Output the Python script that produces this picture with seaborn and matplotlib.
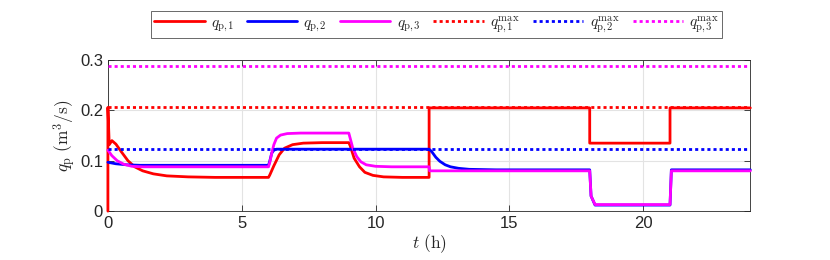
import seaborn as sns
import matplotlib.pyplot as plt

# time (h) and pump flows (m^3/s)
t1 = [0, 0, 0.05, 0.15, 0.3, 0.5, 0.75, 1.0, 1.3, 1.7, 2.2, 3, 4, 6,
      6.05, 6.2, 6.4, 6.6, 6.9, 7.3, 8, 9,
      9.05, 9.2, 9.4, 9.6, 9.9, 10.3, 11, 12,
      12, 18, 18, 21, 21, 24]
q1 = [0, 0.206, 0.132, 0.14, 0.133, 0.118, 0.1, 0.088, 0.08, 0.074, 0.07, 0.068, 0.067, 0.067,
      0.072, 0.09, 0.112, 0.125, 0.132, 0.135, 0.136, 0.136,
      0.13, 0.105, 0.088, 0.077, 0.071, 0.068, 0.067, 0.067,
      0.205, 0.205, 0.135, 0.135, 0.205, 0.205]

t2 = [0, 0.3, 0.7, 1.2, 2, 6, 6.05, 6.12, 6.2, 6.3, 12,
      12.1, 12.25, 12.4, 12.6, 12.8, 13.1, 13.5, 14.5,
      18, 18.05, 18.2, 21, 21.05, 24]
q2 = [0.097, 0.094, 0.092, 0.091, 0.091, 0.091, 0.100, 0.115, 0.121, 0.123, 0.123,
      0.118, 0.107, 0.099, 0.092, 0.088, 0.085, 0.083, 0.082,
      0.082, 0.03, 0.012, 0.012, 0.082, 0.082]

t3 = [0, 0.15, 0.35, 0.6, 0.9, 1.3, 6,
      6.05, 6.12, 6.2, 6.3, 6.45, 6.7, 7.2, 9,
      9.05, 9.15, 9.3, 9.45, 9.65, 10, 10.6, 12,
      12.02, 18, 18.05, 18.2, 21, 21.05, 24]
q3 = [0.121, 0.11, 0.1, 0.093, 0.089, 0.088, 0.088,
      0.097, 0.115, 0.132, 0.145, 0.151, 0.154, 0.155, 0.155,
      0.145, 0.125, 0.108, 0.098, 0.092, 0.089, 0.088, 0.088,
      0.080, 0.080, 0.03, 0.013, 0.013, 0.080, 0.080]

t_span = [0, 24]
q_max = [0.206, 0.123, 0.288]

labels = [r'$q_{\mathrm{p},\!1}$', r'$q_{\mathrm{p},\!2}$', r'$q_{\mathrm{p},\!3}$',
          r'$q_{\mathrm{p},\!1}^{\mathrm{max}}$', r'$q_{\mathrm{p},\!2}^{\mathrm{max}}$',
          r'$q_{\mathrm{p},\!3}^{\mathrm{max}}$']
colors = ['#ff0000', '#0000ff', '#ff00ff']

sns.set_theme(style='ticks')
plt.rcParams['font.family'] = ['Liberation Sans', 'DejaVu Sans']
plt.rcParams['mathtext.fontset'] = 'cm'

fig = plt.figure(figsize=(8.3, 2.6), dpi=100)
ax = fig.add_axes([0.130, 0.188, 0.774, 0.581])

for t, q, c, lab in zip([t1, t2, t3], [q1, q2, q3], colors, labels[:3]):
    sns.lineplot(x=t, y=q, color=c, linewidth=2, estimator=None, sort=False,
                 label=lab, ax=ax, legend=False, clip_on=False, zorder=3)

for qm, c, lab in zip(q_max, colors, labels[3:]):
    sns.lineplot(x=t_span, y=[qm, qm], color=c, linewidth=2, estimator=None,
                 sort=False, label=lab, ax=ax, legend=False, zorder=3,
                 linestyle=(0, (1.1, 1.1)))

ax.set_xlim(0, 24)
ax.set_ylim(0, 0.3)
ax.set_xticks([0, 5, 10, 15, 20])
ax.set_yticks([0, 0.1, 0.2, 0.3])
ax.set_yticklabels(['0', '0.1', '0.2', '0.3'])
ax.grid(True, color='#e3e3e3', linewidth=0.8)
ax.set_axisbelow(True)
ax.tick_params(direction='in', top=True, right=True, labelsize=12,
               colors='#262626', length=4, width=0.6)
for s in ax.spines.values():
    s.set_color('#262626')
    s.set_linewidth(0.6)
    s.set_visible(True)
    s.set_zorder(2)

ax.set_xlabel(r'$t\ \mathrm{(h)}$', fontsize=12.5, labelpad=1)
ax.set_ylabel(r'$q_{\mathrm{p}}\ \mathrm{(m^3/s)}$', fontsize=12.5, labelpad=1)

handles, labs = ax.get_legend_handles_labels()
leg = fig.legend(handles, labs, loc='center', bbox_to_anchor=(0.526, 0.905),
                 ncol=6, fontsize=11, frameon=True, fancybox=False,
                 edgecolor='#262626', handlelength=3.3, columnspacing=0.9,
                 handletextpad=0.4, borderpad=0.2, borderaxespad=0)
leg.get_frame().set_linewidth(0.6)

fig.savefig('out.png', dpi=100)
